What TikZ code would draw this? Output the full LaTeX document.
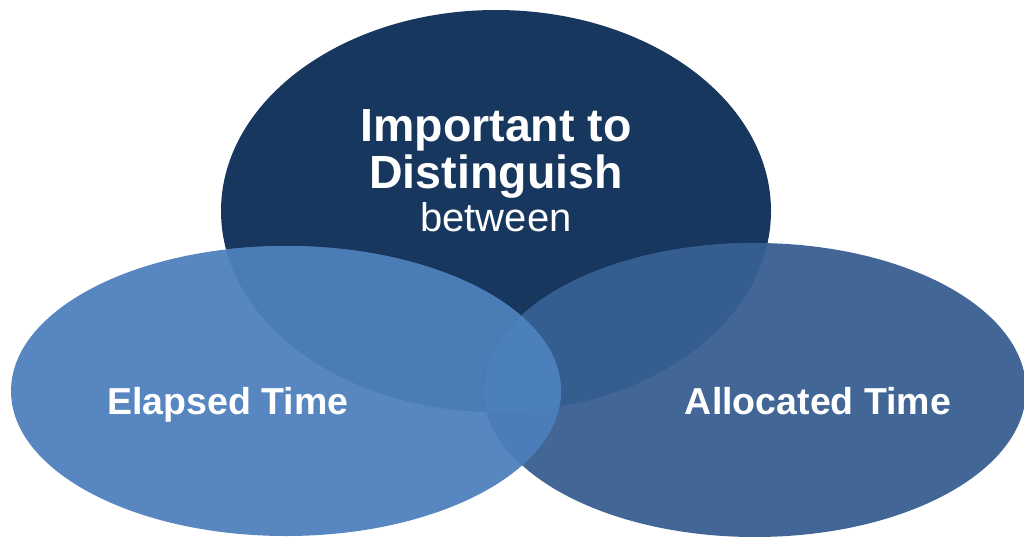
\documentclass[tikz,border=0pt]{standalone}
\usepackage{fontspec}
\setmainfont{Liberation Sans}
\usepackage{tikz}
\usetikzlibrary{positioning}

\definecolor{navy}{RGB}{23,55,94}
\definecolor{leftblue}{RGB}{88,134,192}
\definecolor{rightblue}{RGB}{66,102,150}
\definecolor{topleft}{RGB}{74,124,182}
\definecolor{topright}{RGB}{53,94,144}
\definecolor{leftright}{RGB}{74,125,185}
\definecolor{allthree}{RGB}{75,128,188}

\begin{document}
\begin{tikzpicture}[x=1pt,y=-1pt,
                    big text/.style={text=white,font=\fontsize{46.5}{48}\selectfont\bfseries,anchor=base,inner sep=0pt},
                    small text/.style={text=white,font=\fontsize{40}{42}\selectfont,anchor=base,inner sep=0pt},
                    side text/.style={text=white,font=\fontsize{37.5}{40}\selectfont\bfseries,anchor=base,inner sep=0pt}
                    ]
  \useasboundingbox (0,0) rectangle (1024,536);
  \clip (0,0) rectangle (1024,536);
  \def\toppath{(496,211) ellipse [x radius=275pt, y radius=201pt]}
  \def\leftpath{(286,391) ellipse [x radius=275pt, y radius=145pt]}
  \def\rightpath{(755,390) ellipse [x radius=271pt, y radius=147pt]}

  % the three sets
  \fill[navy] \toppath;
  \fill[leftblue] \leftpath;
  \fill[rightblue] \rightpath;
  % overlaps
  \begin{scope}
    \clip \toppath;
    \fill[topleft] \leftpath;
    \fill[topright] \rightpath;
  \end{scope}
  \begin{scope}
    \clip \leftpath;
    \fill[leftright] \rightpath;
    \clip \toppath;
    \fill[allthree] \rightpath;
  \end{scope}

  \node[big text] (imp) at (496,141) {Important to};
  \node[big text] (dist) at (496,188) {Distinguish};
  \node[small text] (betw) at (496,231) {between};
  \node[side text] (elapsed) at (228,414) {Elapsed Time};
  \node[side text] (allocated) at (818,414) {Allocated Time};
\end{tikzpicture}
\end{document}
